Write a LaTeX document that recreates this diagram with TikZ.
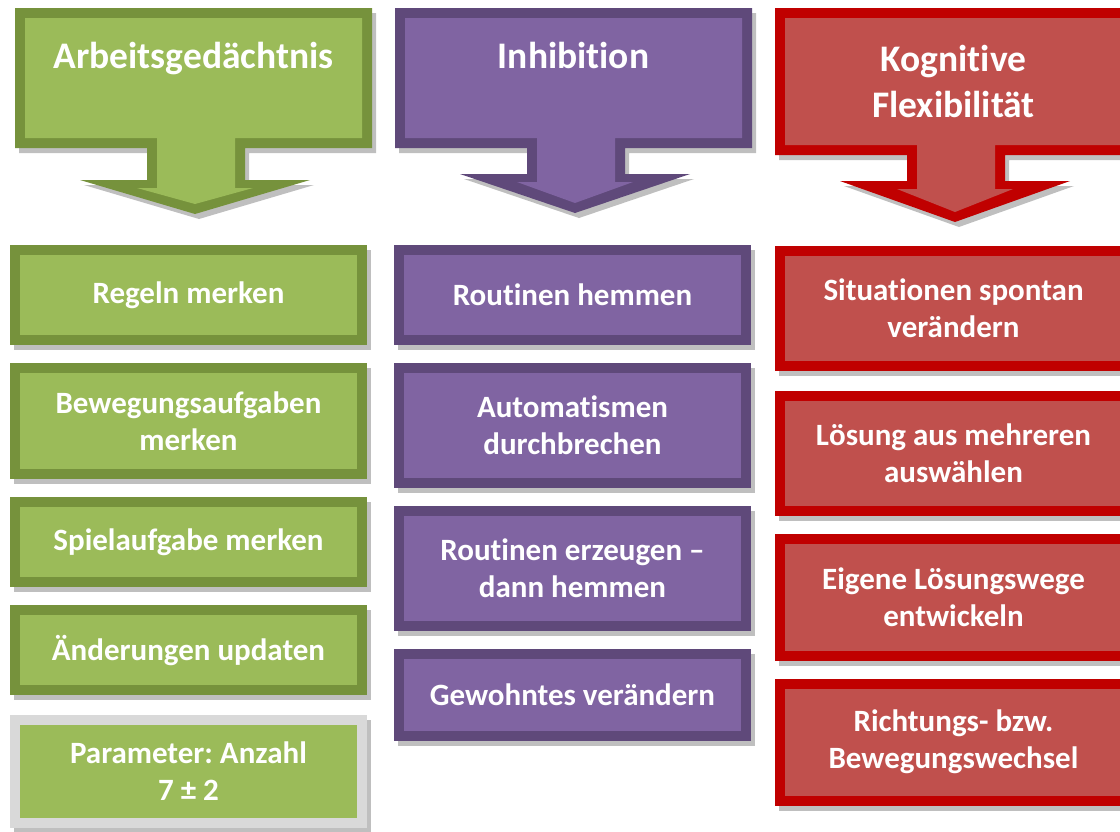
\documentclass[tikz,border=0pt]{standalone}
\usepackage{fontspec}
\setmainfont{Carlito}[Ligatures=NoCommon]
\frenchspacing
\usetikzlibrary{positioning,shadows}
\definecolor{EFGreen}{HTML}{9BBB59}
\definecolor{EFGreenDk}{HTML}{76923C}
\definecolor{EFPurple}{HTML}{8064A2}
\definecolor{EFPurpleDk}{HTML}{5F497A}
\definecolor{EFRed}{HTML}{C0504D}
\definecolor{EFRedDk}{HTML}{C00000}
\definecolor{EFFrame}{HTML}{D9D9D9}

\begin{document}
\begin{tikzpicture}[
  x=1pt, y=-1pt,
  node distance=18pt,
  efbox/.style={line width=10pt, minimum width=347pt, inner sep=0pt, align=center, text=white, font=\bfseries\fontsize{31}{37}\selectfont, drop shadow={draw=black!25, fill=black!25, line width=10pt, opacity=1, shadow xshift=4pt, shadow yshift=-5pt}},
  efgreen/.style={efbox, draw=EFGreenDk, fill=EFGreen},
  efpurple/.style={efbox, draw=EFPurpleDk, fill=EFPurple},
  efred/.style={efbox, draw=EFRedDk, fill=EFRed},
  efparam/.style={efbox, draw=EFFrame, fill=EFGreen},
  eftitle/.style={inner sep=0pt, align=center, text=white, font=\bfseries\fontsize{37.5}{46}\selectfont}
]
\useasboundingbox (0,0) rectangle (1120,831);
\clip (0,0) rectangle (1120,831);

% header arrows
\foreach \lx/\bb/\hh/\tt/\dk/\lt in {15/148/180/214/EFGreenDk/EFGreen, 395/148/174/213/EFPurpleDk/EFPurple, 775/155/181/222/EFRedDk/EFRed} {
  \begin{scope}[shift={(\lx,0)}]
    \fill[black!25, xshift=4pt, yshift=-5pt] (0,8) -- (357,8) -- (357,\bb) -- (230,\bb) -- (230,\hh) -- (295,\hh) -- (180,\tt) -- (65,\hh) -- (132,\hh) -- (132,\bb) -- (0,\bb) -- cycle;
    \fill[\dk] (0,8) -- (357,8) -- (357,\bb) -- (230,\bb) -- (230,\hh) -- (295,\hh) -- (180,\tt) -- (65,\hh) -- (132,\hh) -- (132,\bb) -- (0,\bb) -- cycle;
    \fill[\lt] (10,18) -- (347,18) -- (347,\bb-10) -- (220,\bb-10) -- (220,\hh+8) -- (238,\hh+8) -- (180,\tt-10) -- (122,\hh+8) -- (142,\hh+8) -- (142,\bb-10) -- (10,\bb-10) -- cycle;
  \end{scope}
}
\node[eftitle, anchor=base] (wmtitle) at (193.5,68) {Arbeitsgedächtnis};
\node[eftitle, anchor=base] (inhtitle) at (573.5,68) {Inhibition};
\node[eftitle] (flextitle) at (953.5,81) {Kognitive\\Flexibilität};

% Arbeitsgedaechtnis
\node[efgreen, minimum height=90pt] (wm1) at (188.5,295) {Regeln merken};
\node[efgreen, minimum height=106pt, below=of wm1] (wm2) {Bewegungsaufgaben\\merken};
\node[efgreen, minimum height=80pt, below=of wm2] (wm3) {Spielaufgabe merken};
\node[efgreen, minimum height=80pt, below=of wm3] (wm4) {Änderungen updaten};
\node[efparam, minimum height=103pt, below=20pt of wm4] (wm5) {Parameter: Anzahl\\7 ± 2};

% Inhibition
\node[efpurple, minimum height=90pt] (inh1) at (572.5,295) {Routinen hemmen};
\node[efpurple, minimum height=115pt, below=of inh1] (inh2) {Automatismen\\durchbrechen};
\node[efpurple, minimum height=115pt, below=of inh2] (inh3) {Routinen erzeugen –\\dann hemmen};
\node[efpurple, minimum height=82pt, below=of inh3] (inh4) {Gewohntes verändern};

% Kognitive Flexibilitaet
\node[efred, minimum height=115pt] (flex1) at (953.5,308) {Situationen spontan\\verändern};
\node[efred, minimum height=115pt, below=20pt of flex1] (flex2) {Lösung aus mehreren\\auswählen};
\node[efred, minimum height=117pt, below=of flex2] (flex3) {Eigene Lösungswege\\entwickeln};
\node[efred, minimum height=117pt, below=of flex3] (flex4) {Richtungs- bzw.\\Bewegungswechsel};
\end{tikzpicture}
\end{document}
